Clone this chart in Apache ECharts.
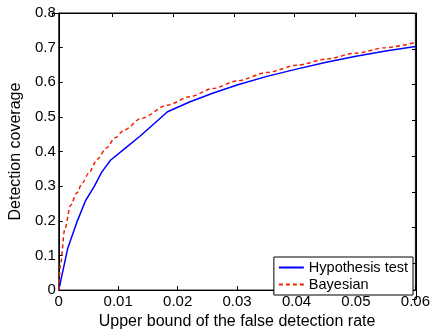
<!DOCTYPE html>
<html>
<head>
<meta charset="utf-8">
<script src="https://cdn.jsdelivr.net/npm/echarts@6/dist/echarts.min.js"></script>
<style>
html,body{margin:0;padding:0;background:#fff;}
#c{width:433px;height:335px;}
</style>
</head>
<body>
<div id="c"></div>
<script>
var seriesNames = ['Hypothesis test', 'Bayesian'];
var hypothesisX = [0, 0.0015, 0.003, 0.0045, 0.006, 0.0072, 0.0087, 0.0112, 0.0137, 0.0183, 0.022, 0.026, 0.030, 0.035, 0.04, 0.045, 0.05, 0.055, 0.06];
var hypothesisY = [0, 0.12, 0.194, 0.258, 0.30, 0.34, 0.375, 0.41, 0.445, 0.515, 0.543, 0.569, 0.592, 0.617, 0.638, 0.658, 0.675, 0.69, 0.703];
var bayesX = [0, 0.0003, 0.001, 0.002, 0.003, 0.004, 0.005, 0.0065, 0.008, 0.0095, 0.011, 0.0139, 0.0183, 0.022, 0.026, 0.030, 0.035, 0.04, 0.045, 0.05, 0.055, 0.06];
var bayesY = [0, 0.075, 0.175, 0.245, 0.28, 0.31, 0.337, 0.378, 0.41, 0.44, 0.462, 0.496, 0.534, 0.558, 0.582, 0.604, 0.628, 0.649, 0.667, 0.684, 0.70, 0.715];
var xTickLabels = ['0', '0.01', '0.02', '0.03', '0.04', '0.05', '0.06'];
var yTickLabels = ['0', '0.1', '0.2', '0.3', '0.4', '0.5', '0.6', '0.7', '0.8'];

function pairs(xs, ys) { return xs.map(function (x, i) { return [x, ys[i]]; }); }

var font = 'Liberation Sans, Arial, Helvetica, sans-serif';
var chart = echarts.init(document.getElementById('c'), null, {renderer: 'canvas'});
function axisLine() { return {show: true, onZero: false, lineStyle: {color: '#000', width: 1}}; }
function tick() { return {show: true, inside: true, length: 4, lineStyle: {color: '#000', width: 1}}; }
function gridBox() { return {left: 52, right: 17, top: 13, bottom: 36, containLabel: false}; }
var g0 = gridBox(); g0.show = true; g0.borderColor = '#000'; g0.borderWidth = 1;
chart.setOption({
  animation: false,
  backgroundColor: '#fff',
  textStyle: {fontFamily: font},
  grid: [g0, gridBox()],
  xAxis: [{
    type: 'value', min: 0, max: 0.06, interval: 0.01, position: 'bottom', gridIndex: 0,
    name: 'Upper bound of the false detection rate', nameLocation: 'middle', nameGap: 23,
    nameTextStyle: {fontSize: 16, color: '#000', fontFamily: font},
    axisLine: axisLine(), axisTick: tick(), splitLine: {show: false},
    axisLabel: {fontSize: 15, color: '#000', margin: 4, fontFamily: font,
      formatter: function (v) { return xTickLabels[Math.round(v / 0.01)]; }}
  }, {
    type: 'value', min: 0, max: 0.06, interval: 0.01, position: 'top', gridIndex: 1,
    axisLine: axisLine(), axisTick: tick(), splitLine: {show: false}, axisLabel: {show: false}
  }],
  yAxis: [{
    type: 'value', min: 0, max: 0.8, interval: 0.1, position: 'left', gridIndex: 0,
    name: 'Detection coverage', nameLocation: 'middle', nameGap: 28,
    nameTextStyle: {fontSize: 16, color: '#000', fontFamily: font},
    axisLine: axisLine(), axisTick: tick(), splitLine: {show: false},
    axisLabel: {fontSize: 15, color: '#000', margin: 3, fontFamily: font,
      formatter: function (v) { return yTickLabels[Math.round(v / 0.1)]; }}
  }, {
    type: 'value', min: 0, max: 0.8, interval: 0.1, position: 'right', gridIndex: 1,
    axisLine: axisLine(), axisTick: tick(), splitLine: {show: false}, axisLabel: {show: false}
  }],
  legend: {
    show: true,
    orient: 'vertical', right: 20, bottom: 40,
    backgroundColor: '#fff', borderColor: '#000', borderWidth: 1,
    padding: [3, 5, 3, 4], itemGap: 2, itemWidth: 25, itemHeight: 14,
    itemStyle: {opacity: 0},
    textStyle: {fontSize: 14.5, color: '#000', fontFamily: font},
    data: seriesNames
  },
  series: [{
    name: seriesNames[0], type: 'line', xAxisIndex: 0, yAxisIndex: 0,
    data: pairs(hypothesisX, hypothesisY), showSymbol: false, symbol: 'none',
    lineStyle: {color: '#0000ff', width: 1.5}, itemStyle: {color: '#0000ff'}
  }, {
    name: seriesNames[1], type: 'line', xAxisIndex: 0, yAxisIndex: 0,
    data: pairs(bayesX, bayesY), showSymbol: false, symbol: 'none', smooth: 0.3, smoothMonotone: 'x',
    lineStyle: {color: '#ee2200', width: 1.5, type: [4, 3]}, itemStyle: {color: '#ee2200'}
  }, {
    type: 'line', xAxisIndex: 1, yAxisIndex: 1, data: pairs(hypothesisX, hypothesisY),
    silent: true, showSymbol: false, symbol: 'none', lineStyle: {opacity: 0}
  }]
});
</script>
</body>
</html>
